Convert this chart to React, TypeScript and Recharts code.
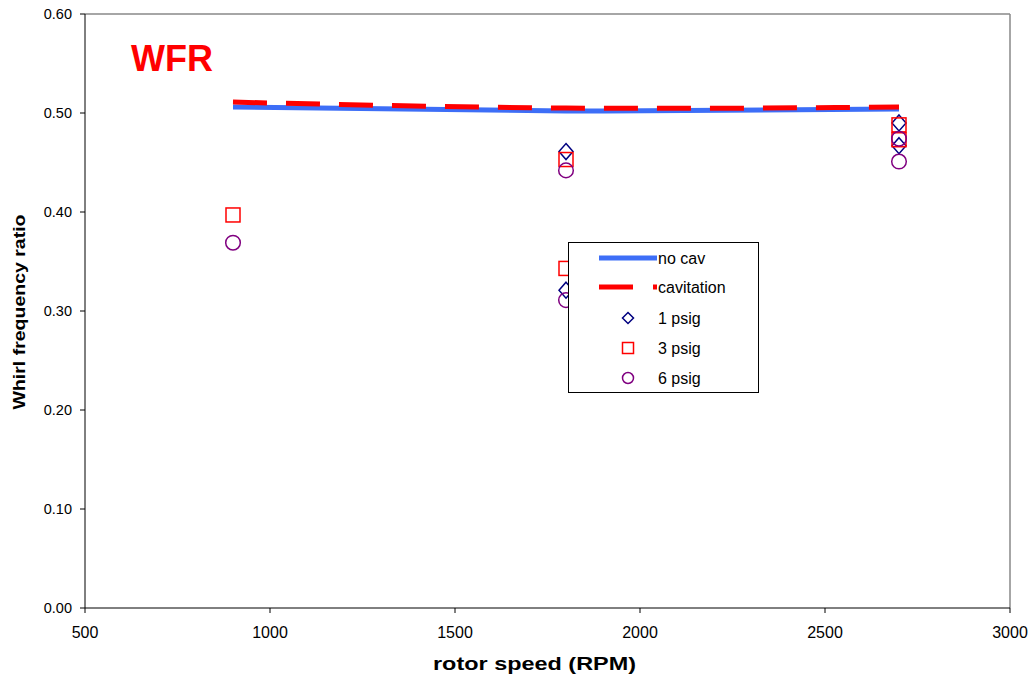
import {
  ComposedChart,
  Legend,
  Line,
  ReferenceLine,
  Scatter,
  XAxis,
  YAxis,
} from "recharts";

const FONT = "'Liberation Sans', Arial, sans-serif";

// rotor speeds (RPM)
const xTicks = [500, 1000, 1500, 2000, 2500, 3000];
const yTicks = [0, 0.1, 0.2, 0.3, 0.4, 0.5, 0.6];

// fitted curves
const noCav = [
  { x: 900, y: 0.506 },
  { x: 1800, y: 0.502 },
  { x: 2700, y: 0.504 },
];
const cavitation = [
  { x: 900, y: 0.511 },
  { x: 1800, y: 0.505 },
  { x: 2700, y: 0.506 },
];

// measured points
const psig1 = [
  { x: 1800, y: 0.461 },
  { x: 1800, y: 0.321 },
  { x: 2700, y: 0.49 },
  { x: 2700, y: 0.467 },
];
const psig3 = [
  { x: 900, y: 0.397 },
  { x: 1800, y: 0.453 },
  { x: 1800, y: 0.343 },
  { x: 2700, y: 0.488 },
  { x: 2700, y: 0.473 },
];
const psig6 = [
  { x: 900, y: 0.369 },
  { x: 1800, y: 0.442 },
  { x: 1800, y: 0.311 },
  { x: 2700, y: 0.474 },
  { x: 2700, y: 0.451 },
];

const legendNames = ["no cav", "cavitation", "1 psig", "3 psig", "6 psig"];

const BLUE = "#3d6ef7";
const RED = "#ff0000";
const NAVY = "#000080";
const PURPLE = "#800080";

type Pt = { cx?: number; cy?: number };

const Diamond = ({ cx = 0, cy = 0 }: Pt) => (
  <path
    d={`M${cx},${cy - 8}L${cx + 7},${cy}L${cx},${cy + 8}L${cx - 7},${cy}Z`}
    fill="none"
    stroke={NAVY}
    strokeWidth={1.5}
  />
);
const Square = ({ cx = 0, cy = 0 }: Pt) => (
  <rect x={cx - 7} y={cy - 7} width={14} height={14} fill="none" stroke={RED} strokeWidth={1.5} />
);
const Circle = ({ cx = 0, cy = 0 }: Pt) => (
  <circle cx={cx} cy={cy} r={7.3} fill="none" stroke={PURPLE} strokeWidth={1.5} />
);

function LegendBox() {
  const rowY = [16, 45, 76, 106, 136];
  return (
    <svg width={191} height={151} style={{ display: "block" }}>
      <rect x={0.5} y={0.5} width={190} height={150} fill="#fff" stroke="#000" />
      <line x1={31} x2={89} y1={rowY[0]} y2={rowY[0]} stroke={BLUE} strokeWidth={5} />
      <line
        x1={31}
        x2={89}
        y1={rowY[1]}
        y2={rowY[1]}
        stroke={RED}
        strokeWidth={5}
        strokeDasharray="34 20"
      />
      <path
        d={`M60,${rowY[2] - 5.5}L65.5,${rowY[2]}L60,${rowY[2] + 5.5}L54.5,${rowY[2]}Z`}
        fill="none"
        stroke={NAVY}
        strokeWidth={1.5}
      />
      <rect x={54.5} y={rowY[3] - 5.5} width={11} height={11} fill="none" stroke={RED} strokeWidth={1.5} />
      <circle cx={60} cy={rowY[4]} r={5.5} fill="none" stroke={PURPLE} strokeWidth={1.5} />
      {legendNames.map((t, i) => (
        <text
          key={t}
          x={90}
          y={rowY[i] + 6}
          fontSize={16}
          fontFamily={FONT}
          fill="#000"
        >
          {t}
        </text>
      ))}
    </svg>
  );
}

export default function App() {
  return (
    <div style={{ position: "fixed", left: 0, top: 0, width: 1033, height: 681, background: "#fff" }}>
      <ComposedChart
        width={1033}
        height={681}
        margin={{ top: 14, right: 23, bottom: 0, left: 0 }}
      >
        <XAxis
          type="number"
          dataKey="x"
          domain={[500, 3000]}
          ticks={xTicks}
          allowDataOverflow
          height={73}
          stroke="#000"
          tickSize={5}
          tickMargin={14}
          tick={{ fill: "#000", fontSize: 16, fontFamily: FONT }}
          label={({ viewBox }: any) => (
            <text
              x={viewBox.x + viewBox.width / 2 - 13}
              y={670}
              textAnchor="middle"
              fontSize={18}
              fontWeight="bold"
              fontFamily={FONT}
              fill="#000"
              textLength={203}
              lengthAdjust="spacingAndGlyphs"
            >
              rotor speed (RPM)
            </text>
          )}
        />
        <YAxis
          type="number"
          dataKey="y"
          domain={[0, 0.6]}
          ticks={yTicks}
          width={85}
          stroke="#000"
          tickSize={5}
          tickMargin={8}
          tickFormatter={(v: number) => v.toFixed(2)}
          tick={{ fill: "#000", fontSize: 14.5, fontFamily: FONT }}
          label={() => (
            <text
              x={25}
              y={312}
              transform="rotate(-90 25 312)"
              textAnchor="middle"
              fontSize={17}
              fontWeight="bold"
              fontFamily={FONT}
              fill="#000"
              textLength={195}
              lengthAdjust="spacingAndGlyphs"
            >
              Whirl frequency ratio
            </text>
          )}
        />
        <ReferenceLine y={0.6} stroke="#888" strokeWidth={1.5} />
        <ReferenceLine x={3000} stroke="#888" strokeWidth={1.5} />
        <Line
          data={noCav}
          dataKey="y"
          type="natural"
          stroke={BLUE}
          strokeWidth={5}
          dot={false}
          activeDot={false}
          isAnimationActive={false}
          name="no cav"
        />
        <Line
          data={cavitation}
          dataKey="y"
          type="natural"
          stroke={RED}
          strokeWidth={5}
          strokeDasharray="34 19"
          dot={false}
          activeDot={false}
          isAnimationActive={false}
          name="cavitation"
        />
        <Scatter data={psig1} dataKey="y" shape={Diamond} isAnimationActive={false} name="1 psig" />
        <Scatter data={psig3} dataKey="y" shape={Square} isAnimationActive={false} name="3 psig" />
        <Scatter data={psig6} dataKey="y" shape={Circle} isAnimationActive={false} name="6 psig" />
        <Legend
          layout="vertical"
          align="center"
          verticalAlign="middle"
          content={() => <LegendBox />}
          wrapperStyle={{ position: "absolute", left: 568, top: 242, width: 191, height: 151 }}
        />
      </ComposedChart>
      <div
        style={{
          position: "absolute",
          left: 131,
          top: 41,
          fontFamily: FONT,
          fontWeight: "bold",
          fontSize: 36,
          lineHeight: "36px",
          color: RED,
        }}
      >
        WFR
      </div>
    </div>
  );
}
